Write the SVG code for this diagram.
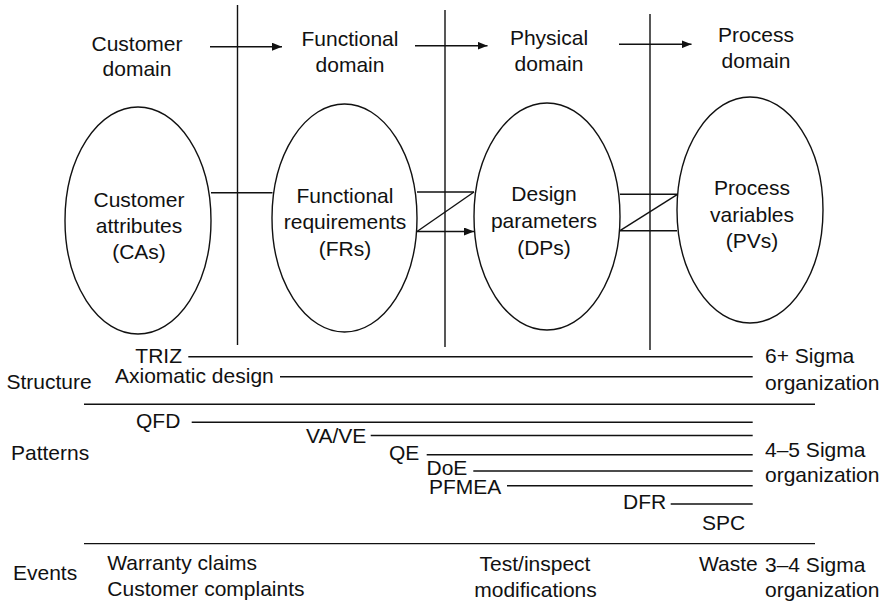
<svg xmlns="http://www.w3.org/2000/svg" width="892" height="605" viewBox="0 0 892 605">
  <defs>
    <style>
      text { font-family: "Liberation Sans", Arial, Helvetica, sans-serif; font-size: 21px; fill: #111; }
      .mid { text-anchor: middle; }
      .end { text-anchor: end; }
      .ln { stroke: #111; stroke-width: 1.4; fill: none; }
      .node ellipse { stroke: #111; stroke-width: 1.4; fill: #fff; }
    </style>
    <marker id="arrow" viewBox="0 0 10 8" refX="10" refY="4" markerWidth="10" markerHeight="8" markerUnits="userSpaceOnUse" orient="auto">
      <path d="M0,0 L10,4 L0,8 Z" fill="#111"/>
    </marker>
  </defs>
  <rect width="892" height="605" fill="#fff"/>

  <!-- domain dividers -->
  <g id="dividers" class="ln">
    <line x1="237.5" y1="5" x2="237.5" y2="345"/>
    <line x1="445" y1="10" x2="445" y2="347"/>
    <line x1="650" y1="14" x2="650" y2="350"/>
  </g>

  <!-- domain headings -->
  <g id="headings">
    <text class="mid" x="137" y="50.5">Customer</text>
    <text class="mid" x="137" y="76">domain</text>
    <text class="mid" x="350" y="45.5">Functional</text>
    <text class="mid" x="350" y="72">domain</text>
    <text class="mid" x="549" y="45">Physical</text>
    <text class="mid" x="549" y="70.5">domain</text>
    <text class="mid" x="756" y="42">Process</text>
    <text class="mid" x="756" y="68">domain</text>
  </g>

  <!-- domain nodes -->
  <g id="node-cas" class="node">
    <ellipse cx="138" cy="220.5" rx="73" ry="113.5"/>
    <text class="mid" x="139" y="206.5">Customer</text>
    <text class="mid" x="139" y="232.5">attributes</text>
    <text class="mid" x="139" y="258.5">(CAs)</text>
  </g>
  <g id="node-frs" class="node">
    <ellipse cx="344.5" cy="218" rx="72.5" ry="114"/>
    <text class="mid" x="345" y="203">Functional</text>
    <text class="mid" x="345" y="229">requirements</text>
    <text class="mid" x="345" y="255.5">(FRs)</text>
  </g>
  <g id="node-dps" class="node">
    <ellipse cx="547" cy="216.5" rx="73" ry="113.5"/>
    <text class="mid" x="544" y="201">Design</text>
    <text class="mid" x="544" y="228">parameters</text>
    <text class="mid" x="544" y="254.5">(DPs)</text>
  </g>
  <g id="node-pvs" class="node">
    <ellipse cx="750" cy="210" rx="73" ry="113"/>
    <text class="mid" x="752" y="195">Process</text>
    <text class="mid" x="752" y="221.5">variables</text>
    <text class="mid" x="752" y="247.5">(PVs)</text>
  </g>

  <!-- connectors -->
  <g id="connectors" class="ln">
    <line x1="210" y1="46.7" x2="282" y2="46.7" marker-end="url(#arrow)"/>
    <line x1="415" y1="45.7" x2="487.5" y2="45.7" marker-end="url(#arrow)"/>
    <line x1="619" y1="44.3" x2="691.5" y2="44.3" marker-end="url(#arrow)"/>

    <line x1="211" y1="192.7" x2="272.5" y2="192.7"/>

    <line x1="417" y1="192" x2="474" y2="192"/>
    <line x1="417" y1="231.5" x2="474" y2="192"/>
    <line x1="417" y1="231.5" x2="474" y2="231.5" marker-end="url(#arrow)"/>

    <line x1="620" y1="194.3" x2="677.5" y2="194.3"/>
    <line x1="620" y1="230.7" x2="677.5" y2="194.3"/>
    <line x1="620" y1="230.7" x2="677" y2="230.7"/>
  </g>

  <!-- methods and sigma levels -->
  <g id="methods">
    <g class="ln">
      <line x1="188.3" y1="356.7" x2="752.7" y2="356.7"/>
      <line x1="280" y1="376.7" x2="752.7" y2="376.7"/>
      <line x1="84" y1="404.2" x2="815" y2="404.2"/>
      <line x1="191.7" y1="422.3" x2="752.7" y2="422.3"/>
      <line x1="370.7" y1="435.5" x2="752.7" y2="435.5"/>
      <line x1="426.7" y1="454.8" x2="752.7" y2="454.8"/>
      <line x1="473.3" y1="471" x2="752.7" y2="471"/>
      <line x1="507" y1="485.8" x2="752.7" y2="485.8"/>
      <line x1="670.7" y1="504" x2="752.7" y2="504"/>
      <line x1="84" y1="543.6" x2="815" y2="543.6"/>
    </g>

    <text x="6.5" y="388.5">Structure</text>
    <text x="11" y="460">Patterns</text>
    <text x="13" y="580">Events</text>

    <text class="end" x="182" y="363.3">TRIZ</text>
    <text x="115" y="382.5">Axiomatic design</text>
    <text x="136" y="428.3">QFD</text>
    <text x="306" y="443.3">VA/VE</text>
    <text x="389" y="460.3">QE</text>
    <text x="426.5" y="475">DoE</text>
    <text x="429" y="493.5">PFMEA</text>
    <text x="623" y="508.5">DFR</text>
    <text x="702" y="529.5">SPC</text>

    <text x="107.3" y="570">Warranty claims</text>
    <text x="107.3" y="595.5">Customer complaints</text>
    <text class="mid" x="535" y="570.5">Test/inspect</text>
    <text class="mid" x="535.5" y="596.5">modifications</text>
    <text x="699" y="570.5">Waste</text>

    <text x="765" y="363.3">6+ Sigma</text>
    <text x="765" y="390">organization</text>
    <text x="765" y="456.7">4–5 Sigma</text>
    <text x="765" y="481.7">organization</text>
    <text x="765" y="571.5">3–4 Sigma</text>
    <text x="765" y="596.7">organization</text>
  </g>
</svg>
